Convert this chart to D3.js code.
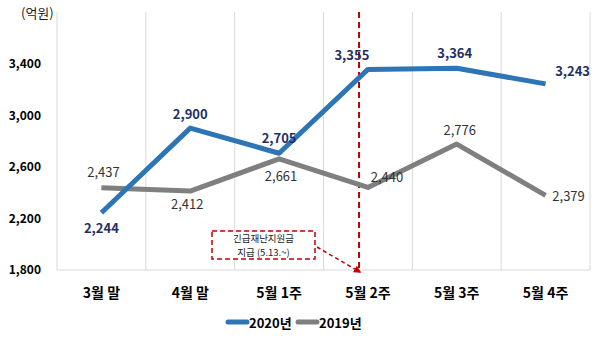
<!DOCTYPE html>
<html><head><meta charset="utf-8">
<script src="https://cdn.jsdelivr.net/npm/d3@7"></script>
<style>
html,body{margin:0;padding:0;background:#fff;}
svg text{font-family:"Noto Sans CJK KR","Noto Sans",sans-serif;}
</style></head>
<body><svg id="c" width="600" height="339"></svg>
<script>
const categories = ["3월 말","4월 말","5월 1주","5월 2주","5월 3주","5월 4주"];
const values2020 = [2244, 2900, 2705, 3355, 3364, 3243];
const values2019 = [2437, 2412, 2661, 2440, 2776, 2379];
const yTicks = [1800, 2200, 2600, 3000, 3400];
const seriesNames = ["2020년", "2019년"];

const svg = d3.select("#c");
const L = 57, R = 590, T = 12, B = 270;

const x = d3.scaleBand().domain(categories).range([L, R]);
const y = d3.scaleLinear().domain([1800, 3800]).range([B, T]);
const cx = d => x(d) + x.bandwidth() / 2;

// vertical category dividers
svg.append("g").selectAll("line")
  .data(d3.range(categories.length + 1))
  .join("line")
  .attr("x1", i => L + i * x.bandwidth()).attr("x2", i => L + i * x.bandwidth())
  .attr("y1", T).attr("y2", B)
  .attr("stroke", "#d9d9d9").attr("stroke-width", 1);

// baseline
svg.append("line").attr("x1", L).attr("x2", R).attr("y1", B).attr("y2", B)
  .attr("stroke", "#d9d9d9");

// y axis labels
const yAxis = d3.axisLeft(y).tickValues(yTicks).tickFormat(d3.format(",")).tickSize(0).tickPadding(16);
const ya = svg.append("g").attr("transform", `translate(${L},0)`).call(yAxis);
ya.select(".domain").remove();
ya.selectAll("text").attr("font-size", 12).attr("font-weight", "bold").attr("fill", "#000")
  .style("font-family", "'Noto Sans CJK KR',sans-serif");

svg.append("text").attr("x", 21).attr("y", 18).text("(억원)")
  .attr("font-size", 13).attr("fill", "#222");

// x axis labels
const xAxis = d3.axisBottom(x).tickSize(0).tickPadding(18);
const xa = svg.append("g").attr("transform", `translate(0,${B})`).call(xAxis);
xa.select(".domain").remove();
xa.selectAll("text").attr("font-size", 14).attr("font-weight", "bold").attr("fill", "#000")
  .style("font-family", "'Noto Sans CJK KR',sans-serif");

// event marker: dashed vertical line
const markerX = x("5월 2주") + x.bandwidth() * 0.4;
svg.append("line").attr("x1", markerX).attr("x2", markerX).attr("y1", T).attr("y2", B)
  .attr("stroke", "#c00000").attr("stroke-width", 2).attr("stroke-dasharray", "6,4");

const line = d3.line().x((d, i) => cx(categories[i])).y(d => y(d));

svg.append("path").datum(values2019).attr("d", line)
  .attr("fill", "none").attr("stroke", "#7f7f7f").attr("stroke-width", 5).attr("stroke-linejoin", "round");
svg.append("path").datum(values2020).attr("d", line)
  .attr("fill", "none").attr("stroke", "#2e75b6").attr("stroke-width", 5).attr("stroke-linejoin", "round");

// data labels: [dx, dy] offsets from the point
const off2020 = [[0, 15], [0, -15], [0, -16], [-16, -15], [-2, -16], [27, -13]];
const off2019 = [[2, -16], [-3, 12], [2, 17], [19, -11], [3, -15], [23, 0]];
const fmt = d3.format(",");

svg.append("g").selectAll("text").data(values2020).join("text")
  .attr("x", (d, i) => cx(categories[i]) + off2020[i][0])
  .attr("y", (d, i) => y(d) + off2020[i][1])
  .attr("text-anchor", "middle").attr("dominant-baseline", "central")
  .attr("font-size", 13).attr("font-weight", "bold").attr("fill", "#1f2f63")
  .text(fmt);

svg.append("g").selectAll("text").data(values2019).join("text")
  .attr("x", (d, i) => cx(categories[i]) + off2019[i][0])
  .attr("y", (d, i) => y(d) + off2019[i][1])
  .attr("text-anchor", "middle").attr("dominant-baseline", "central")
  .attr("font-size", 13).attr("fill", "#333")
  .text(fmt);

// annotation box
const bx = 212, by = 231, bw = 103, bh = 28;
svg.append("rect").attr("x", bx).attr("y", by).attr("width", bw).attr("height", bh)
  .attr("fill", "#fff").attr("stroke", "#c00000").attr("stroke-width", 1.5).attr("stroke-dasharray", "5,3");
svg.append("text").attr("x", bx + bw / 2).attr("y", by + 11).attr("text-anchor", "middle")
  .attr("font-size", 9.5).attr("fill", "#222").text("긴급재난지원금");
svg.append("text").attr("x", bx + bw / 2).attr("y", by + 25).attr("text-anchor", "middle")
  .attr("font-size", 9.5).attr("fill", "#222").text("지급 (5.13.~)");

svg.append("defs").append("marker").attr("id", "ah").attr("viewBox", "0 0 10 10")
  .attr("refX", 8).attr("refY", 5).attr("markerWidth", 5).attr("markerHeight", 5).attr("orient", "auto")
  .append("path").attr("d", "M0,0L10,5L0,10z").attr("fill", "#c00000");
svg.append("line").attr("x1", bx + bw + 2).attr("y1", by + 16).attr("x2", markerX + 1).attr("y2", 272)
  .attr("stroke", "#c00000").attr("stroke-width", 1.5).attr("stroke-dasharray", "4,3")
  .attr("marker-end", "url(#ah)");

// legend
const legend = [{name: seriesNames[0], color: "#2e75b6", x: 228}, {name: seriesNames[1], color: "#7f7f7f", x: 298}];
const lg = svg.append("g").selectAll("g").data(legend).join("g")
  .attr("transform", d => `translate(${d.x},322)`);
lg.append("line").attr("x1", 0).attr("x2", 19).attr("stroke", d => d.color)
  .attr("stroke-width", 5).attr("stroke-linecap", "round");
lg.append("text").attr("x", 21).attr("dominant-baseline", "central")
  .attr("font-size", 13).attr("font-weight", "bold").attr("fill", "#000").text(d => d.name);
</script></body></html>
